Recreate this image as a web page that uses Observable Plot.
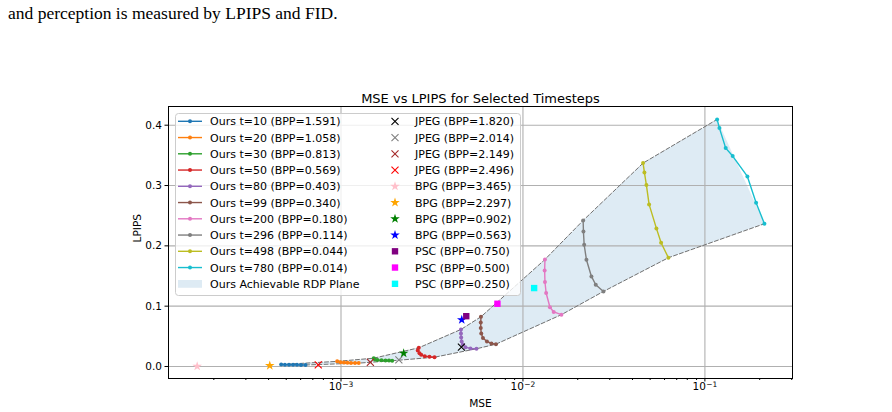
<!DOCTYPE html>
<html>
<head>
<meta charset="utf-8">
<script src="https://cdn.jsdelivr.net/npm/d3@7"></script>
<script src="https://cdn.jsdelivr.net/npm/@observablehq/plot@0.6"></script>
<style>
  html, body { margin: 0; padding: 0; background: #fff; }
  #page { position: relative; width: 892px; height: 412px; overflow: hidden; font-family: "DejaVu Sans", sans-serif; }
  #lead { position: absolute; left: 8px; top: 4px; font-family: "Liberation Serif", "Times New Roman", serif;
          font-size: 17.5px; line-height: 18px; color: #000; white-space: nowrap; }
  #chart { position: absolute; left: 0; top: 0; }
  #legend { position: absolute; left: 0; top: 0; pointer-events: none; }
</style>
</head>
<body>
<div id="page">
  <div id="lead">and perception is measured by LPIPS and FID.</div>
  <div id="chart"></div>
  <svg id="legend" width="892" height="412"></svg>
</div>
<script>
// ---- Our codec: one curve per diffusion timestep (MSE, LPIPS pairs) ----
const timesteps = [10, 20, 30, 50, 80, 99, 200, 296, 498, 780];
const oursBpp = ["1.591", "1.058", "0.813", "0.569", "0.403", "0.340", "0.180", "0.114", "0.044", "0.014"];
const oursMse = [
  [4.69e-4, 4.92e-4, 5.18e-4, 5.45e-4, 5.73e-4, 6.03e-4, 6.38e-4],
  [9.53e-4, 9.94e-4, 1.039e-3, 1.086e-3, 1.135e-3, 1.194e-3, 1.252e-3],
  [1.514e-3, 1.537e-3, 1.586e-3, 1.669e-3, 1.756e-3, 1.835e-3, 1.911e-3],
  [2.676e-3, 2.642e-3, 2.70e-3, 2.759e-3, 2.887e-3, 3.064e-3, 3.265e-3],
  [4.563e-3, 4.563e-3, 4.575e-3, 4.605e-3, 4.669e-3, 4.832e-3, 5.146e-3, 5.553e-3],
  [5.877e-3, 5.862e-3, 5.862e-3, 5.90e-3, 6.028e-3, 6.34e-3, 6.712e-3, 7.105e-3],
  [1.321e-2, 1.316e-2, 1.321e-2, 1.341e-2, 1.407e-2, 1.476e-2, 1.627e-2],
  [2.142e-2, 2.15e-2, 2.17e-2, 2.233e-2, 2.379e-2, 2.512e-2, 2.77e-2],
  [4.574e-2, 4.651e-2, 4.77e-2, 4.935e-2, 5.414e-2, 5.745e-2, 6.301e-2],
  [0.1167, 0.1202, 0.1301, 0.1421, 0.1712, 0.1911, 0.2124]
];
const oursLpips = [
  [0.0033, 0.0031, 0.0029, 0.0028, 0.0027, 0.0026, 0.0025],
  [0.0085, 0.0072, 0.0066, 0.0062, 0.0060, 0.0058, 0.0056],
  [0.0138, 0.0116, 0.0108, 0.0104, 0.0100, 0.0099, 0.0095],
  [0.0310, 0.0265, 0.0220, 0.0194, 0.0171, 0.0161, 0.0154],
  [0.0614, 0.0547, 0.0481, 0.0415, 0.0365, 0.0320, 0.0299, 0.0294],
  [0.0824, 0.0730, 0.0638, 0.0547, 0.0473, 0.0415, 0.0381, 0.0370],
  [0.1774, 0.1592, 0.1401, 0.1219, 0.0983, 0.0904, 0.0859],
  [0.2421, 0.2239, 0.2018, 0.1770, 0.1493, 0.1355, 0.1244],
  [0.3372, 0.3217, 0.3007, 0.2687, 0.2289, 0.2051, 0.1803],
  [0.4096, 0.3952, 0.3620, 0.3488, 0.3151, 0.2715, 0.2367]
];

// ---- Baseline codecs ----
const jpegBpp = ["1.820", "2.014", "2.149", "2.496"];
const jpegMse = [4.59e-3, 2.08e-3, 1.45e-3, 7.5e-4];
const jpegLpips = [0.032, 0.011, 0.007, 0.0028];

const bpgBpp = ["3.465", "2.297", "0.902", "0.563"];
const bpgMse = [1.62e-4, 4.06e-4, 2.21e-3, 4.61e-3];
const bpgLpips = [0.0003, 0.0015, 0.022, 0.0774];

const pscBpp = ["0.750", "0.500", "0.250"];
const pscMse = [4.88e-3, 7.24e-3, 1.152e-2];
const pscLpips = [0.0834, 0.104, 0.130];

// ---- Axis ticks ----
const xMajorTicks = [1e-3, 1e-2, 1e-1];
const xTickBase = "10";
const xTickExponents = ["\u22123", "\u22122", "\u22121"];
const yTicks = [0, 0.1, 0.2, 0.3, 0.4];

// ---- Colours ----
const tab10 = ["#1f77b4", "#ff7f0e", "#2ca02c", "#d62728", "#9467bd",
               "#8c564b", "#e377c2", "#7f7f7f", "#bcbd22", "#17becf"];
const jpegColors = ["black", "gray", "brown", "red"];
const bpgColors = ["pink", "orange", "green", "blue"];
const pscColors = ["purple", "magenta", "cyan"];
const planeColor = "#1f77b4";

// ---- Tables for the marks ----
const ours = timesteps.flatMap((t, i) =>
  oursMse[i].map((m, j) => ({series: i, mse: m, lpips: oursLpips[i][j], color: tab10[i]})));
const upperEdge = timesteps.map((t, i) => ({mse: oursMse[i][0], lpips: oursLpips[i][0]}));
const lowerEdge = timesteps.map((t, i) => ({mse: oursMse[i].at(-1), lpips: oursLpips[i].at(-1)}));
const plane = [...upperEdge, ...lowerEdge.slice().reverse()];

const jpeg = jpegBpp.map((b, i) => ({mse: jpegMse[i], lpips: jpegLpips[i], color: jpegColors[i]}));
const bpg = bpgBpp.map((b, i) => ({mse: bpgMse[i], lpips: bpgLpips[i], color: bpgColors[i]}));
const psc = pscBpp.map((b, i) => ({mse: pscMse[i], lpips: pscLpips[i], color: pscColors[i]}));
const xTickRows = xMajorTicks.map((v, i) => ({v, exp: xTickExponents[i]}));

// log-axis minor ticks (2..9 per decade) inside the visible range
const xDomain = [1.127e-4, 0.303];
const xMinorTicks = [];
for (let e = -4; e <= -1; e++) for (let k = 2; k <= 9; k++) {
  const v = k * Math.pow(10, e);
  if (v >= xDomain[0] && v <= xDomain[1]) xMinorTicks.push(v);
}

const R_DOT = 2, R_STAR = 3, R_SQUARE = 3.6, R_TIMES = 3.3;
const dash = "4,2.2";

const chart = Plot.plot({
  width: 892, height: 412,
  marginLeft: 168, marginRight: 100, marginTop: 106, marginBottom: 34,
  style: {fontFamily: "DejaVu Sans", fontSize: "10px", background: "transparent", color: "black"},
  x: {type: "log", domain: xDomain},
  y: {domain: [-0.0199, 0.431]},
  color: {type: "identity"},
  marks: [
    // achievable plane
    Plot.line(plane, {x: "mse", y: "lpips", fill: planeColor, fillOpacity: 0.15, stroke: "none"}),
    // grid
    Plot.gridX(xMajorTicks, {stroke: "#b0b0b0", strokeOpacity: 1, strokeWidth: 1.1}),
    Plot.gridY(yTicks, {stroke: "#b0b0b0", strokeOpacity: 1, strokeWidth: 1.1}),
    // plane boundaries
    Plot.line(upperEdge, {x: "mse", y: "lpips", stroke: "#707070", strokeWidth: 1, strokeDasharray: dash}),
    Plot.line(lowerEdge, {x: "mse", y: "lpips", stroke: "#707070", strokeWidth: 1, strokeDasharray: dash}),
    // our curves
    Plot.line(ours, {x: "mse", y: "lpips", z: "series", stroke: "color", strokeWidth: 1.4}),
    Plot.dot(ours, {x: "mse", y: "lpips", fill: "color", r: R_DOT}),
    // baselines
    Plot.dot(jpeg, {x: "mse", y: "lpips", symbol: "times", stroke: "color", strokeWidth: 1.1, r: R_TIMES}),
    Plot.dot(bpg, {x: "mse", y: "lpips", symbol: "star", fill: "color", r: R_STAR}),
    Plot.dot(psc, {x: "mse", y: "lpips", symbol: "square", fill: "color", r: R_SQUARE}),
    // frame and axes
    Plot.frame({stroke: "black", strokeWidth: 1}),
    Plot.axisX(xMajorTicks, {tickSize: 3.5, tickFormat: () => "", label: null}),
    Plot.axisX(xMinorTicks, {tickSize: 2, tickFormat: () => "", label: null}),
    // log tick labels: base and raised exponent
    Plot.text(xTickRows, {x: "v", text: () => xTickBase, frameAnchor: "bottom", textAnchor: "end",
      lineAnchor: "top", dx: 1, dy: 4.5, fontSize: 10.5}),
    Plot.text(xTickRows, {x: "v", text: "exp", frameAnchor: "bottom", textAnchor: "start",
      lineAnchor: "top", dx: 1.3, dy: 3, fontSize: 7.5}),
    Plot.axisY(yTicks, {tickSize: 3.5, tickPadding: 3, fontSize: 10.5, tickFormat: d3.format(".1f"), label: null}),
    // titles
    Plot.text(["MSE vs LPIPS for Selected Timesteps"], {frameAnchor: "top", dy: -4, lineAnchor: "bottom", fontSize: 13}),
    Plot.text(["MSE"], {frameAnchor: "bottom", dy: 28, lineAnchor: "bottom", fontSize: 10.6}),
    Plot.text(["LPIPS"], {frameAnchor: "left", dx: -31, rotate: -90, fontSize: 10.6})
  ]
});
document.getElementById("chart").appendChild(chart);

// ---- Legend (two columns) ----
const lg = d3.select("#legend");
const box = {x: 175.5, y: 113.5, w: 345, h: 182};
lg.append("rect").attr("x", box.x).attr("y", box.y).attr("width", box.w).attr("height", box.h)
  .attr("rx", 3).attr("fill", "white").attr("fill-opacity", 0.8).attr("stroke", "#cccccc");

const rowY = i => 121.3 + 16.25 * i;
const sym = (type, r) => d3.symbol(type, r * r * Math.PI)();
const addText = (x, y, s) => lg.append("text").attr("x", x).attr("y", y).attr("dy", "0.36em")
  .attr("font-family", "DejaVu Sans").attr("font-size", 11).attr("fill", "black").text(s);

timesteps.forEach((t, i) => {
  const y = rowY(i);
  lg.append("line").attr("x1", 178).attr("x2", 202).attr("y1", y).attr("y2", y)
    .attr("stroke", tab10[i]).attr("stroke-width", 1.4);
  lg.append("circle").attr("cx", 190).attr("cy", y).attr("r", R_DOT).attr("fill", tab10[i]);
  addText(210, y, `Ours t=${t} (BPP=${oursBpp[i]})`);
});
{
  const y = rowY(10);
  lg.append("rect").attr("x", 178).attr("y", y - 3.8).attr("width", 24).attr("height", 7.8)
    .attr("fill", planeColor).attr("fill-opacity", 0.15);
  addText(210, y, "Ours Achievable RDP Plane");
}
let row = 0;
jpegBpp.forEach((b, i) => {
  const y = rowY(row++);
  lg.append("path").attr("d", sym(d3.symbolTimes, R_TIMES)).attr("transform", `translate(395,${y})`)
    .attr("fill", "none").attr("stroke", jpegColors[i]).attr("stroke-width", 1.1);
  addText(415, y, `JPEG (BPP=${b})`);
});
bpgBpp.forEach((b, i) => {
  const y = rowY(row++);
  lg.append("path").attr("d", sym(d3.symbolStar, R_STAR)).attr("transform", `translate(395,${y})`)
    .attr("fill", bpgColors[i]);
  addText(415, y, `BPG (BPP=${b})`);
});
pscBpp.forEach((b, i) => {
  const y = rowY(row++);
  lg.append("path").attr("d", sym(d3.symbolSquare, R_SQUARE)).attr("transform", `translate(395,${y})`)
    .attr("fill", pscColors[i]);
  addText(415, y, `PSC (BPP=${b})`);
});
</script>
</body>
</html>
